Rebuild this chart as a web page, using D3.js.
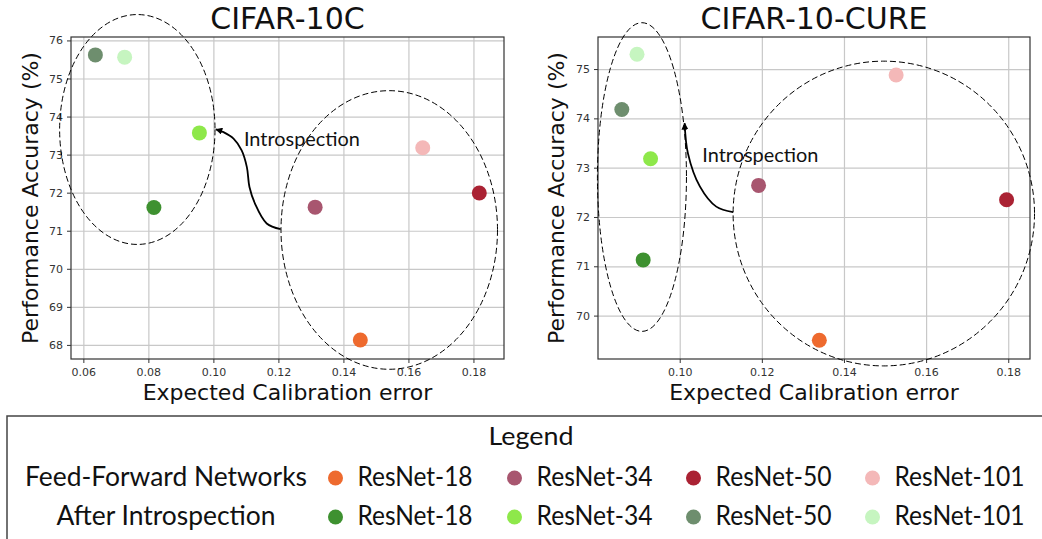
<!DOCTYPE html>
<meta charset="utf-8">
<style>
    body {
        margin: 0;
        background-color: #fff;
    }

    svg {
        display: block;
    }

    .tick text {
        font-family: "DejaVu Sans", sans-serif;
        font-size: 11px;
        fill: #333;
    }

    .grid line {
        stroke: #c8c8c8;
        stroke-width: 1.2px;
    }

    .grid .domain {
        display: none;
    }

    .title {
        font-family: "DejaVu Sans", sans-serif;
        font-size: 30px;
        fill: #111;
    }

    .axis-label {
        font-family: "DejaVu Sans", sans-serif;
        font-size: 22px;
        fill: #111;
    }

    .note, .legend-text {
        font-family: Lato, "Open Sans", sans-serif;
        fill: #111;
    }
</style>
<svg width="1042" height="539"></svg>
<script src="https://d3js.org/d3.v7.min.js"></script>
<script>
    // models and colours
    var models = ["ResNet-18", "ResNet-34", "ResNet-50", "ResNet-101"];
    var ffColors = ["#ee6a2e", "#a8566f", "#aa2233", "#f4b8b8"];
    var introColors = ["#3e9130", "#8ee84a", "#6e8e6e", "#c6f5c0"];

    // CIFAR-10C
    var c10cFfEce = [0.1452, 0.1313, 0.1818, 0.1644];
    var c10cFfAcc = [68.13, 71.62, 71.99, 73.18];
    var c10cIntroEce = [0.0817, 0.0957, 0.0637, 0.0727];
    var c10cIntroAcc = [71.61, 73.57, 75.62, 75.56];
    var c10cXTicks = [0.06, 0.08, 0.10, 0.12, 0.14, 0.16, 0.18];
    var c10cYTicks = [68, 69, 70, 71, 72, 73, 74, 75, 76];

    // CIFAR-10-CURE
    var cureFfEce = [0.1340, 0.1192, 0.1796, 0.1527];
    var cureFfAcc = [69.50, 72.64, 72.35, 74.88];
    var cureIntroEce = [0.0911, 0.0929, 0.0859, 0.0896];
    var cureIntroAcc = [71.13, 73.18, 74.18, 75.30];
    var cureXTicks = [0.10, 0.12, 0.14, 0.16, 0.18];
    var cureYTicks = [70, 71, 72, 73, 74, 75];

    var svg = d3.select("svg");

    var panels = [{
        title: "CIFAR-10C",
        ffEce: c10cFfEce, ffAcc: c10cFfAcc,
        introEce: c10cIntroEce, introAcc: c10cIntroAcc,
        xTicks: c10cXTicks, yTicks: c10cYTicks,
        xDomain: [0.0562, 0.1894], yDomain: [67.63, 76.09],
        left: 71, right: 504, top: 37, bottom: 359,
        ylabelX: 30,
        ellipses: [
            {cx: 0.0766, cy: 73.66, rx: 0.0239, ry: 3.02},
            {cx: 0.1541, cy: 71.02, rx: 0.0333, ry: 3.66}
        ],
        arrow: [[0.1207, 71.04], [0.1164, 71.19], [0.1128, 71.71], [0.1111, 72.15],
                [0.1103, 72.67], [0.1087, 73.11], [0.1062, 73.42], [0.1031, 73.59], [0.1008, 73.66]],
        note: [0.1094, 73.22]
    }, {
        title: "CIFAR-10-CURE",
        ffEce: cureFfEce, ffAcc: cureFfAcc,
        introEce: cureIntroEce, introAcc: cureIntroAcc,
        xTicks: cureXTicks, yTicks: cureYTicks,
        xDomain: [0.0801, 0.1853], yDomain: [69.12, 75.65],
        left: 598, right: 1030, top: 37, bottom: 359,
        ylabelX: 556,
        ellipses: [
            {cx: 0.0908, cy: 72.81, rx: 0.01084, ry: 3.13},
            {cx: 0.1497, cy: 72.07, rx: 0.0367, ry: 3.09}
        ],
        arrow: [[0.1130, 72.10], [0.1089, 72.21], [0.1049, 72.62], [0.1020, 73.29], [0.1012, 73.90]],
        note: [0.1055, 73.12]
    }];

    svg.append("defs").append("marker")
        .attr("id", "head")
        .attr("viewBox", "0 0 10 10")
        .attr("refX", 9)
        .attr("refY", 5)
        .attr("markerWidth", 7)
        .attr("markerHeight", 7)
        .attr("markerUnits", "userSpaceOnUse")
        .attr("orient", "auto")
        .append("path")
        .attr("d", "M0,0 L10,5 L0,10 z")
        .attr("fill", "#000");

    panels.forEach(function(p) {
        var x = d3.scaleLinear().domain(p.xDomain).range([p.left, p.right]);
        var y = d3.scaleLinear().domain(p.yDomain).range([p.bottom, p.top]);
        var w = p.right - p.left,
            h = p.bottom - p.top;
        var g = svg.append("g");

        // grid
        g.append("g")
            .attr("class", "grid")
            .attr("transform", "translate(0," + p.bottom + ")")
            .call(d3.axisBottom(x).tickValues(p.xTicks).tickSize(-h).tickFormat(""));
        g.append("g")
            .attr("class", "grid")
            .attr("transform", "translate(" + p.left + ",0)")
            .call(d3.axisLeft(y).tickValues(p.yTicks).tickSize(-w).tickFormat(""));

        // axes
        var xa = g.append("g")
            .attr("transform", "translate(0," + p.bottom + ")")
            .call(d3.axisBottom(x).tickValues(p.xTicks).tickSize(4).tickPadding(5).tickFormat(d3.format(".2f")));
        var ya = g.append("g")
            .attr("transform", "translate(" + p.left + ",0)")
            .call(d3.axisLeft(y).tickValues(p.yTicks).tickSize(4).tickPadding(4).tickFormat(d3.format("d")));
        [xa, ya].forEach(function(a) {
            a.select(".domain").remove();
            a.selectAll(".tick line").attr("stroke", "#333");
        });

        g.append("rect")
            .attr("x", p.left).attr("y", p.top)
            .attr("width", w).attr("height", h)
            .attr("fill", "none")
            .attr("stroke", "#333")
            .attr("stroke-width", 1.2);

        // dashed groupings
        g.selectAll("ellipse")
            .data(p.ellipses)
            .enter().append("ellipse")
            .attr("cx", function(d) { return x(d.cx); })
            .attr("cy", function(d) { return y(d.cy); })
            .attr("rx", function(d) { return x(d.cx + d.rx) - x(d.cx); })
            .attr("ry", function(d) { return y(d.cy - d.ry) - y(d.cy); })
            .attr("fill", "none")
            .attr("stroke", "#000")
            .attr("stroke-width", 1)
            .attr("stroke-dasharray", "6,3");

        // points
        var pts = [];
        models.forEach(function(m, i) {
            pts.push({ece: p.ffEce[i], acc: p.ffAcc[i], color: ffColors[i]});
            pts.push({ece: p.introEce[i], acc: p.introAcc[i], color: introColors[i]});
        });
        g.append("g").selectAll("circle")
            .data(pts)
            .enter().append("circle")
            .attr("cx", function(d) { return x(d.ece); })
            .attr("cy", function(d) { return y(d.acc); })
            .attr("r", 7.5)
            .attr("fill", function(d) { return d.color; });

        // introspection arrow
        var line = d3.line()
            .x(function(d) { return x(d[0]); })
            .y(function(d) { return y(d[1]); })
            .curve(d3.curveCatmullRom);
        g.append("path")
            .attr("d", line(p.arrow))
            .attr("fill", "none")
            .attr("stroke", "#000")
            .attr("stroke-width", 1.8)
            .attr("marker-end", "url(#head)");

        g.append("text")
            .attr("class", "note")
            .attr("x", x(p.note[0]))
            .attr("y", y(p.note[1]))
            .attr("font-size", 19)
            .attr("textLength", 116)
            .attr("lengthAdjust", "spacingAndGlyphs")
            .text("Introspection");

        // labels
        g.append("text")
            .attr("class", "title")
            .attr("x", (p.left + p.right) / 2)
            .attr("y", 29)
            .attr("text-anchor", "middle")
            .text(p.title);
        g.append("text")
            .attr("class", "axis-label")
            .attr("x", (p.left + p.right) / 2)
            .attr("y", 400)
            .attr("text-anchor", "middle")
            .text("Expected Calibration error");
        g.append("text")
            .attr("class", "axis-label")
            .attr("transform", "translate(" + p.ylabelX + "," + ((p.top + p.bottom) / 2) + ") rotate(-90)")
            .attr("text-anchor", "middle")
            .attr("dominant-baseline", "central")
            .text("Performance Accuracy (%)");
    });

    // legend
    var lg = svg.append("g");
    lg.append("rect")
        .attr("x", 7).attr("y", 416)
        .attr("width", 1050).attr("height", 140)
        .attr("fill", "#fff")
        .attr("stroke", "#444")
        .attr("stroke-width", 1.5);
    lg.append("text")
        .attr("class", "legend-text")
        .attr("x", 531).attr("y", 445)
        .attr("text-anchor", "middle")
        .attr("font-size", 25)
        .attr("textLength", 85)
        .attr("lengthAdjust", "spacingAndGlyphs")
        .text("Legend");

    var rows = [
        {name: "Feed-Forward Networks", colors: ffColors, y: 478, width: 282},
        {name: "After Introspection", colors: introColors, y: 517, width: 219}
    ];
    var labelWidths = [115, 116, 116, 130];
    rows.forEach(function(r) {
        lg.append("text")
            .attr("class", "legend-text")
            .attr("x", 166).attr("y", r.y + 8)
            .attr("text-anchor", "middle")
            .attr("font-size", 26)
            .attr("textLength", r.width)
            .attr("lengthAdjust", "spacingAndGlyphs")
            .text(r.name);
        models.forEach(function(m, i) {
            var cx = 335.5 + i * 179;
            lg.append("circle")
                .attr("cx", cx).attr("cy", r.y)
                .attr("r", 7.5)
                .attr("fill", r.colors[i]);
            lg.append("text")
                .attr("class", "legend-text")
                .attr("x", cx + 22).attr("y", r.y + 8)
                .attr("font-size", 26)
                .attr("textLength", labelWidths[i])
                .attr("lengthAdjust", "spacingAndGlyphs")
                .text(m);
        });
    });
</script>
